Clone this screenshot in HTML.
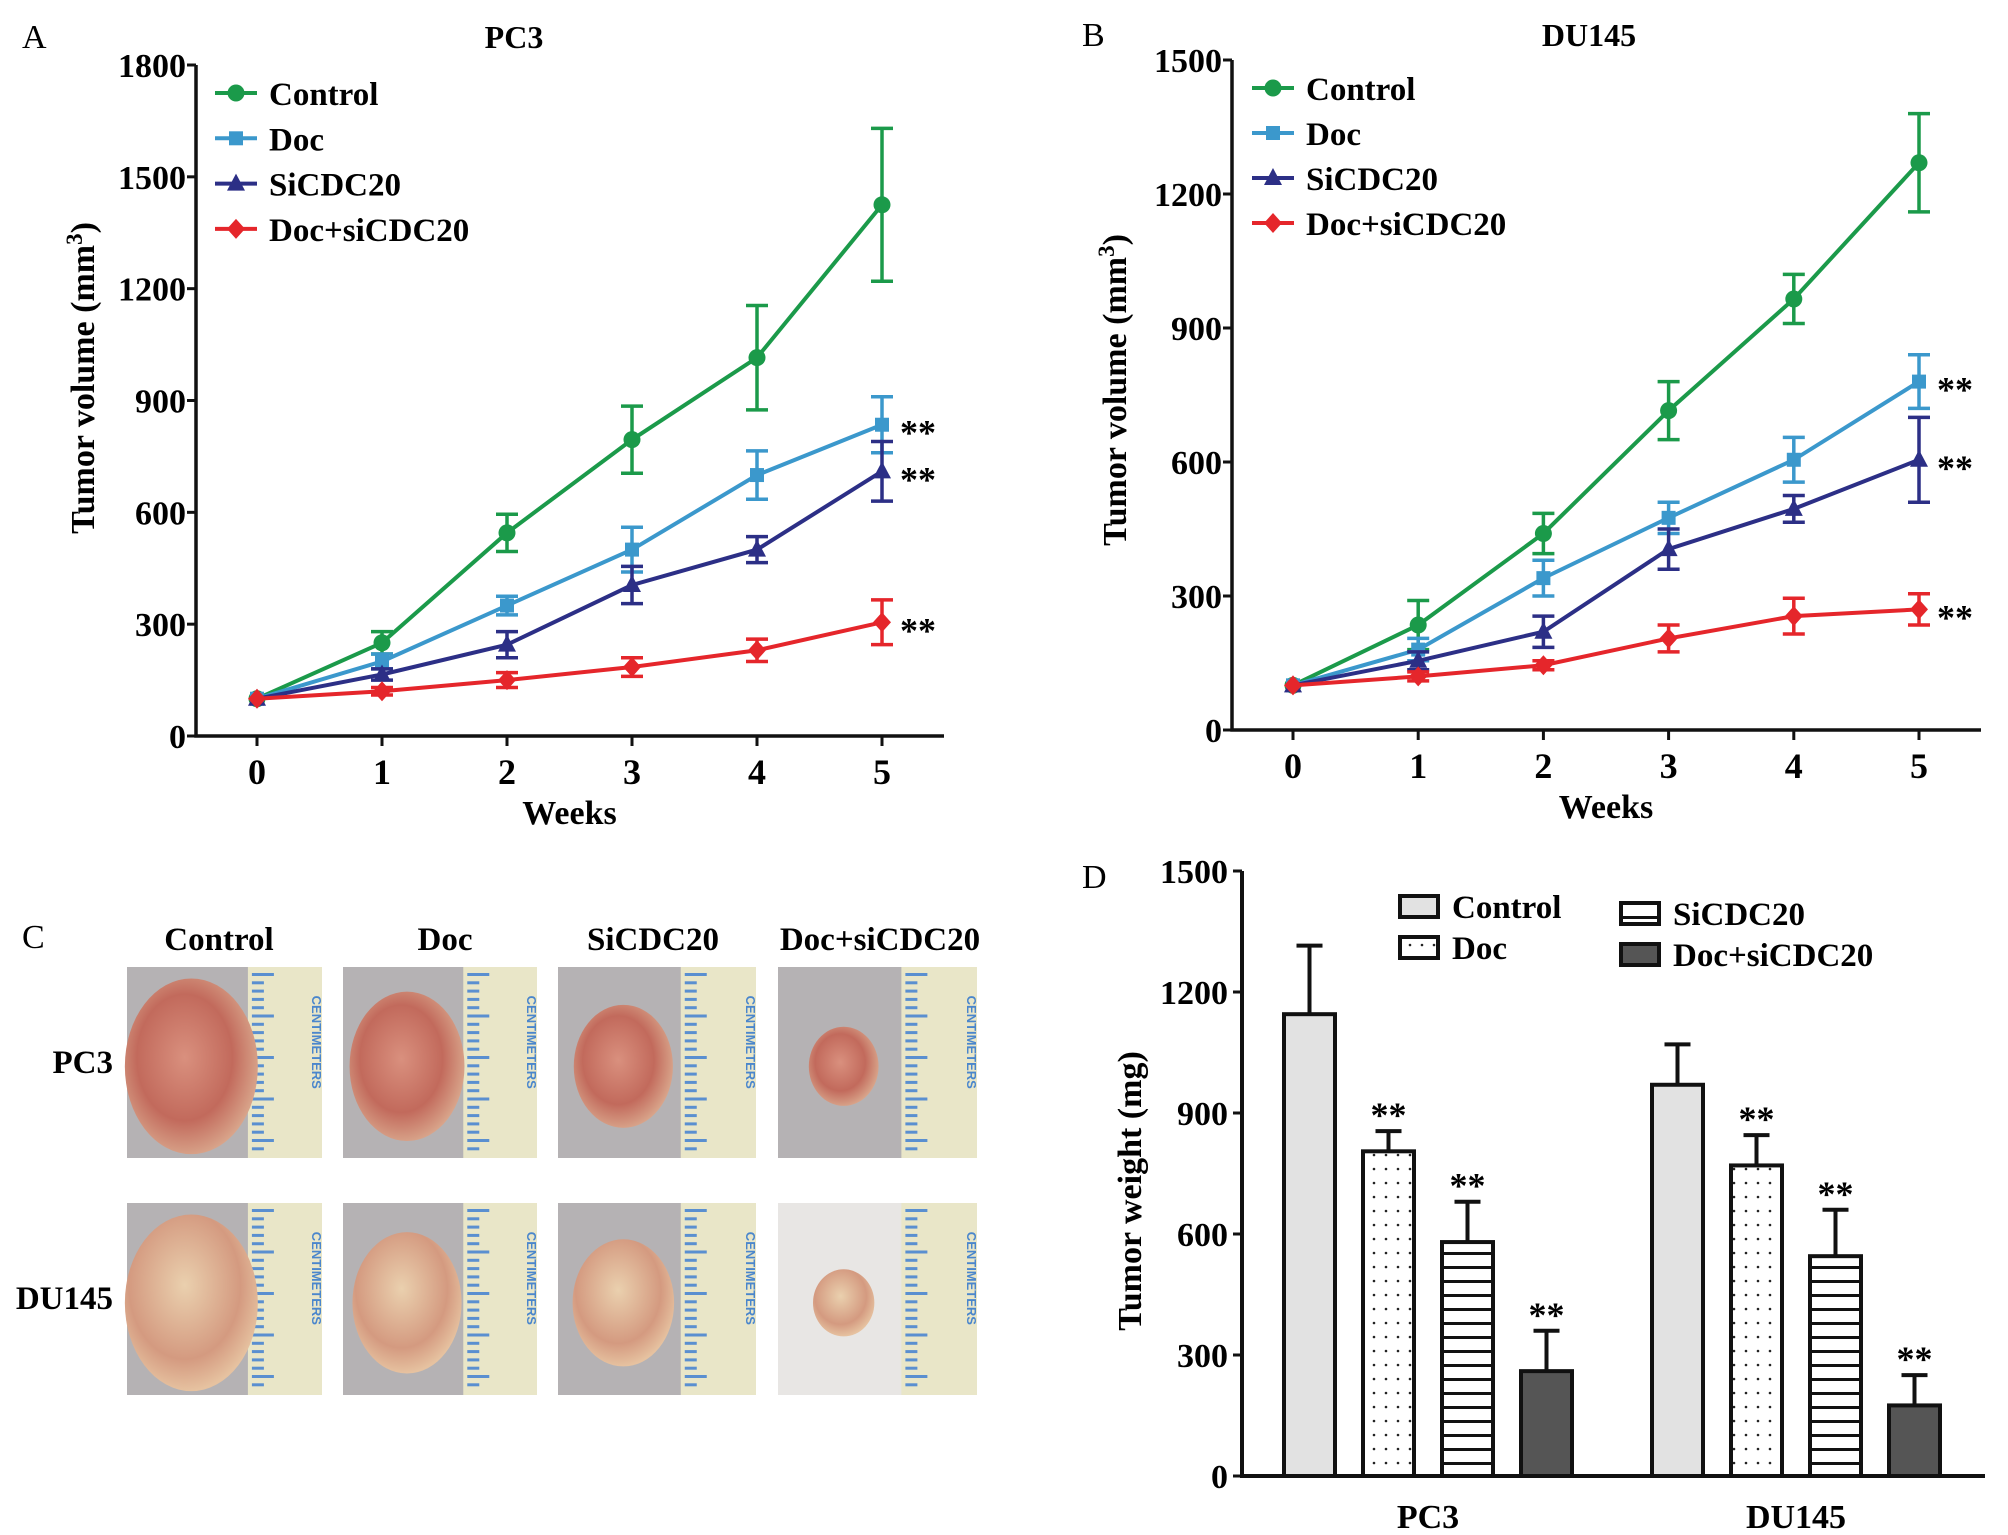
<!DOCTYPE html>
<html><head><meta charset="utf-8"><style>
html,body{margin:0;padding:0;background:#fff;}
svg{display:block;font-family:"Liberation Serif",serif;}
</style></head><body>
<svg id="fig" width="2008" height="1535" viewBox="0 0 2008 1535" xmlns="http://www.w3.org/2000/svg">
<defs>
<pattern id="dots" width="12" height="14" patternUnits="userSpaceOnUse"><rect width="12" height="14" fill="#fff"/><circle cx="6" cy="7" r="1.3" fill="#222"/></pattern>
<pattern id="hlines" width="10" height="14" patternUnits="userSpaceOnUse"><rect width="10" height="14" fill="#fff"/><rect y="6" width="10" height="3" fill="#111"/></pattern>
<radialGradient id="tum" cx="45%" cy="45%" r="60%"><stop offset="0" stop-color="#d9907e"/><stop offset="0.6" stop-color="#c26a5c"/><stop offset="1" stop-color="#dcae92"/></radialGradient>
<radialGradient id="tum2" cx="45%" cy="40%" r="60%"><stop offset="0" stop-color="#ead0ae"/><stop offset="0.7" stop-color="#d49a80"/><stop offset="1" stop-color="#e6c2a0"/></radialGradient>
</defs>
<g id="A"></g>
<g id="B"></g>
<g id="C"></g>
<g id="D"></g>
</svg>
<script>
const weeks = [0,1,2,3,4,5];
const seriesNames = ["Control","Doc","SiCDC20","Doc+siCDC20"];
const seriesColors = ["#1b9a4a","#3b98cc","#2c2f86","#e5262b"];
const pc3Control = [100,250,545,795,1015,1425];
const pc3ControlErr = [0,30,50,90,140,205];
const pc3Doc = [100,200,350,500,700,835];
const pc3DocErr = [0,20,25,60,65,75];
const pc3Si = [100,165,245,405,500,710];
const pc3SiErr = [0,15,35,50,35,80];
const pc3Combo = [100,120,150,185,230,305];
const pc3ComboErr = [0,10,20,25,30,60];
const du145Control = [100,235,440,715,965,1270];
const du145ControlErr = [0,55,45,65,55,110];
const du145Doc = [100,180,340,475,605,780];
const du145DocErr = [0,25,40,35,50,60];
const du145Si = [100,155,220,405,495,605];
const du145SiErr = [0,20,35,45,30,95];
const du145Combo = [100,120,145,205,255,270];
const du145ComboErr = [0,10,10,30,40,35];
const pc3Ticks = [0,300,600,900,1200,1500,1800];
const du145Ticks = [0,300,600,900,1200,1500];
const weightGroups = ["PC3","DU145"];
const weightPC3 = [1145,805,580,260];
const weightPC3Err = [170,50,100,100];
const weightDU145 = [970,770,545,175];
const weightDU145Err = [100,75,115,75];
const weightTicks = [0,300,600,900,1200,1500];

const NS="http://www.w3.org/2000/svg";
function mk(parent,tag,attrs,text){const e=document.createElementNS(NS,tag);for(const k in attrs)e.setAttribute(k,attrs[k]);if(text!==undefined)e.textContent=text;parent.appendChild(e);return e;}

function marker(g,type,x,y,color){
  let e;
  if(type===0) e=mk(g,"circle",{cx:x,cy:y,r:8.5,fill:color});
  else if(type===1) e=mk(g,"rect",{x:x-7,y:y-7,width:14,height:14,fill:color});
  else if(type===2) e=mk(g,"polygon",{points:`${x},${y-10} ${x+9},${y+7} ${x-9},${y+7}`,fill:color});
  else e=mk(g,"polygon",{points:`${x},${y-10} ${x+9},${y} ${x},${y+10} ${x-9},${y}`,fill:color});
  return e;
}

function lineChart(id,cfg){
  const g=document.getElementById(id);
  const X=v=>cfg.x0+(v-weeks[0])*(cfg.x5-cfg.x0)/5;
  const Y=v=>cfg.yBot-v*(cfg.yBot-cfg.yTop)/cfg.ymax;
  let t=mk(g,"text",{x:cfg.letterX,y:cfg.titleY+12,"font-size":34},cfg.letter);
  
  
  t=mk(g,"text",{x:cfg.titleX,y:cfg.titleY+12,"font-size":32,"font-weight":"bold","text-anchor":"middle"},cfg.title);
  
  
  let ax=mk(g,"path",{d:`M${cfg.axX},${cfg.yTop} V${cfg.yBot} H${cfg.axEnd}`,stroke:"#111","stroke-width":3.5,fill:"none"});
  
  
  cfg.ticks.forEach(v=>{
    const tk=mk(g,"line",{x1:cfg.axX-9,x2:cfg.axX,y1:Y(v),y2:Y(v),stroke:"#111","stroke-width":3});
    
    
    const tl=mk(g,"text",{x:cfg.axX-10,y:Y(v)+12,"font-size":34,"font-weight":"bold","text-anchor":"end"},String(v));
    
    
  });
  weeks.forEach(w=>{
    const tk=mk(g,"line",{x1:X(w),x2:X(w),y1:cfg.yBot,y2:cfg.yBot+10,stroke:"#111","stroke-width":3});
    
    
    const tl=mk(g,"text",{x:X(w),y:cfg.yBot+48,"font-size":36,"text-anchor":"middle","font-weight":"bold"},String(w));
    
    
  });
  t=mk(g,"text",{x:(X(0)+X(5))/2,y:cfg.yBot+88,"font-size":34,"font-weight":"bold","text-anchor":"middle"},"Weeks");
  
  
  t=mk(g,"text",{x:0,y:0,"font-size":34,"font-weight":"bold","text-anchor":"middle",transform:`translate(${cfg.ylx},${cfg.yly}) rotate(-90)`});
  
  
  t.appendChild(document.createTextNode("Tumor volume (mm"));
  mk(t,"tspan",{dy:-12,"font-size":23},"3");
  mk(t,"tspan",{dy:12},")");
  cfg.series.forEach((s,i)=>{
    const sg=mk(g,"g",{});
    
    
    const col=seriesColors[i];
    const pts=weeks.map((w,k)=>X(w)+","+Y(s.v[k])).join(" ");
    const pl=mk(sg,"polyline",{points:pts,fill:"none",stroke:col,"stroke-width":4});
    
    
    weeks.forEach((w,k)=>{
      if(s.e[k]>0){
        const x=X(w),y1=Y(s.v[k]+s.e[k]),y2=Y(s.v[k]-s.e[k]);
        const eb=mk(sg,"path",{d:`M${x},${y1} V${y2} M${x-11},${y1} H${x+11} M${x-11},${y2} H${x+11}`,stroke:col,"stroke-width":3.5,fill:"none"});
        
        
      }
      const m=marker(sg,i,X(w),Y(s.v[k]),col);
      
      
    });
  });
  [1,2,3].forEach(i=>{
    const s=cfg.series[i];
    const st=mk(g,"text",{x:X(5)+18,y:Y(s.v[5])+20,"font-size":36,"font-weight":"bold"},"**");
    
    
  });
  seriesNames.forEach((n,i)=>{
    const y=cfg.legY0+i*cfg.legDy;
    const lg=mk(g,"g",{});
    
    
    mk(lg,"line",{x1:cfg.legX,x2:cfg.legX+42,y1:y,y2:y,stroke:seriesColors[i],"stroke-width":4});
    marker(lg,i,cfg.legX+21,y,seriesColors[i]);
    mk(lg,"text",{x:cfg.legX+54,y:y+12,"font-size":33,"font-weight":"bold"},n);
  });
}

lineChart("A",{letter:"A",letterX:22,title:"PC3",titleX:514,titleY:36,axX:196,axEnd:944,yTop:65,yBot:736,x0:257,x5:882,ymax:1800,ticks:pc3Ticks,ylx:94,yly:378,
  legX:215,legY0:93,legDy:45.3,
  series:[{v:pc3Control,e:pc3ControlErr},{v:pc3Doc,e:pc3DocErr},{v:pc3Si,e:pc3SiErr},{v:pc3Combo,e:pc3ComboErr}]});
lineChart("B",{letter:"B",letterX:1082,title:"DU145",titleX:1589,titleY:34,axX:1232,axEnd:1981,yTop:60,yBot:730,x0:1293,x5:1919,ymax:1500,ticks:du145Ticks,ylx:1126,yly:390,
  legX:1252,legY0:88,legDy:45,
  series:[{v:du145Control,e:du145ControlErr},{v:du145Doc,e:du145DocErr},{v:du145Si,e:du145SiErr},{v:du145Combo,e:du145ComboErr}]});

(function(){
  const g=document.getElementById("C");
  let t=mk(g,"text",{x:22,y:948,"font-size":34},"C");
  
  
  const colX=[127,343,558,778], colW=[195,194,198,199], colC=[219,445,653,880];
  const rowY=[967,1203], rowH=[191,192];
  const sizes=[[1,0.85,0.7,0.45],[1,0.8,0.72,0.38]];
  seriesNames.forEach((n,i)=>{
    const l=mk(g,"text",{x:colC[i],y:950,"font-size":33,"font-weight":"bold","text-anchor":"middle"},n);
    
    
  });
  ["PC3","DU145"].forEach((n,r)=>{
    const l=mk(g,"text",{x:113,y:rowY[r]+106,"font-size":33,"font-weight":"bold","text-anchor":"end"},n);
    
    
    for(let c=0;c<4;c++){
      const pg=mk(g,"g",{});
      
      
      const x=colX[c],y=rowY[r],w=colW[c],h=rowH[r];
      mk(pg,"rect",{x:x,y:y,width:w,height:h,fill:(c===3&&r===1)?"#e8e6e4":"#b5b2b4"});
      const rx=x+w*0.62;
      mk(pg,"rect",{x:rx,y:y,width:w*0.38,height:h,fill:"#e9e6c8"});
      for(let k=0;k<22;k++){
        mk(pg,"rect",{x:rx+4,y:y+6+k*8.3,width:(k%5===0)?22:12,height:3,fill:"#5a8fd0"});
      }
      mk(pg,"text",{x:0,y:0,"font-size":13,"font-weight":"bold",fill:"#4a86cc","font-family":"Liberation Sans, sans-serif",transform:`translate(${x+w-10},${y+h*0.15}) rotate(90)`},"CENTIMETERS");
      const s=sizes[r][c];
      mk(pg,"ellipse",{cx:x+w*0.33,cy:y+h*0.52,rx:w*0.3*s+8,ry:h*0.46*s,fill:r===0?"url(#tum)":"url(#tum2)"});
    }
  });
})();

(function(){
  const g=document.getElementById("D");
  const axX=1242, axEnd=1985, yTop=871, yBot=1476, ymax=1500;
  const Y=v=>yBot-v*(yBot-yTop)/ymax;
  const groupStart=[1284,1652], barStep=79, barW=51;
  const fills=["#e2e2e2","url(#dots)","url(#hlines)","#555555"];
  let t=mk(g,"text",{x:1082,y:888,"font-size":34},"D");
  
  
  const data=[[weightPC3,weightPC3Err],[weightDU145,weightDU145Err]];
  data.forEach((d,gi)=>{
    d[0].forEach((v,i)=>{
      const x=groupStart[gi]+i*barStep;
      const top=Y(v), et=Y(v+d[1][i]);
      const eb=mk(g,"path",{d:`M${x+barW/2},${top} V${et} M${x+barW/2-13},${et} H${x+barW/2+13}`,stroke:"#111","stroke-width":4,fill:"none"});
      
      
      const b=mk(g,"rect",{x:x,y:top,width:barW,height:yBot-top,fill:fills[i],stroke:"#111","stroke-width":4});
      
      
      if(i>0){
        const st=mk(g,"text",{x:x+barW/2,y:et-4,"font-size":36,"font-weight":"bold","text-anchor":"middle"},"**");
        
        
      }
    });
    const gl=mk(g,"text",{x:groupStart[gi]+1.5*barStep+barW/2,y:1528,"font-size":34,"font-weight":"bold","text-anchor":"middle"},weightGroups[gi]);
    
    
  });
  let ax=mk(g,"path",{d:`M${axX},${yTop} V${yBot} H${axEnd}`,stroke:"#111","stroke-width":4,fill:"none"});
  
  
  weightTicks.forEach(v=>{
    const tk=mk(g,"line",{x1:axX-9,x2:axX,y1:Y(v),y2:Y(v),stroke:"#111","stroke-width":3});
    
    
    const tl=mk(g,"text",{x:axX-14,y:Y(v)+12,"font-size":34,"font-weight":"bold","text-anchor":"end"},String(v));
    
    
  });
  t=mk(g,"text",{x:0,y:0,"font-size":34,"font-weight":"bold","text-anchor":"middle",transform:"translate(1141,1191) rotate(-90)"},"Tumor weight (mg)");
  
  
  const legPos=[[1400,896],[1400,937],[1621,903],[1621,944]];
  seriesNames.forEach((n,i)=>{
    const lg=mk(g,"g",{});
    
    
    mk(lg,"rect",{x:legPos[i][0],y:legPos[i][1],width:38,height:21,fill:fills[i],stroke:"#111","stroke-width":4});
    mk(lg,"text",{x:legPos[i][0]+52,y:legPos[i][1]+22,"font-size":33,"font-weight":"bold"},n);
  });
})();
</script>
</body></html>
